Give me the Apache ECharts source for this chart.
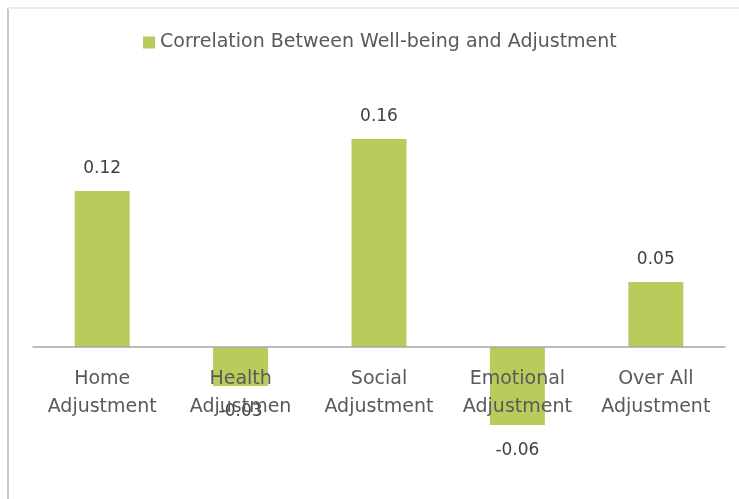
<!DOCTYPE html>
<html>
<head>
<meta charset="utf-8">
<script src="https://cdn.jsdelivr.net/npm/echarts@6/dist/echarts.min.js"></script>
<style>html,body{margin:0;padding:0;background:#fff}#c{width:739px;height:499px}</style>
</head>
<body>
<div id="c"></div>
<script>
const categories = ['Home\nAdjustment', 'Health\nAdjustmen', 'Social\nAdjustment', 'Emotional\nAdjustment', 'Over All\nAdjustment'];
const seriesName = 'Correlation Between Well-being and Adjustment';
const values = [0.12, -0.03, 0.16, -0.06, 0.05];

const FONT = '"DejaVu Sans", sans-serif';
const chart = echarts.init(document.getElementById('c'), null, {renderer: 'canvas'});
const data = values.map(v => v < 0
  ? {value: v, label: {position: 'bottom', distance: 17}}
  : v);
chart.setOption({
  animation: false,
  backgroundColor: '#fff',
  graphic: [
    {type: 'line', shape: {x1: 8, y1: 8, x2: 8, y2: 499}, style: {stroke: '#c9c9cd', lineWidth: 2}},
    {type: 'line', shape: {x1: 8, y1: 8, x2: 739, y2: 8}, style: {stroke: '#ececec', lineWidth: 2}}
  ],
  legend: {
    left: 143, top: 33, padding: 0,
    icon: 'rect',
    itemWidth: 12, itemHeight: 12, itemGap: 10,
    textStyle: {fontFamily: FONT, fontSize: 19, color: '#595959'},
    data: [seriesName]
  },
  grid: {left: 33, right: 14, top: 113, height: 338, outerBoundsMode: 'none', containLabel: false},
  xAxis: {
    type: 'category',
    data: categories,
    z: 5,
    axisLine: {onZero: true, lineStyle: {color: '#a6a6a6', width: 1.5}},
    axisTick: {show: false},
    axisLabel: {interval: 0, margin: -86, lineHeight: 28, fontFamily: FONT, fontSize: 19, color: '#595959'}
  },
  yAxis: {
    type: 'value', min: -0.08, max: 0.18, show: false,
    splitLine: {show: false}
  },
  series: [{
    name: seriesName,
    type: 'bar',
    data: data,
    barWidth: 55,
    itemStyle: {color: '#bacb5c'},
    label: {show: true, position: 'top', distance: 14, fontFamily: FONT, fontSize: 17, color: '#404040'}
  }]
});
</script>
</body>
</html>
